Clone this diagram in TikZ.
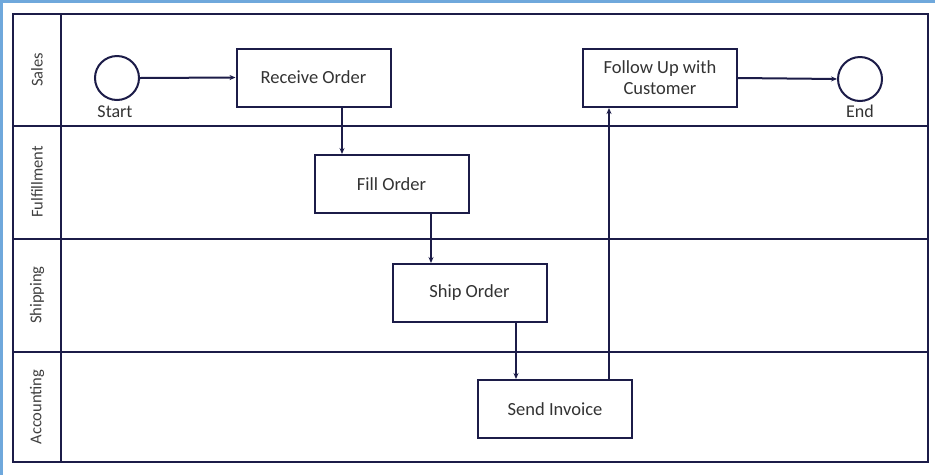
\documentclass[tikz,border=0pt]{standalone}
\usepackage{fontspec}
\setmainfont{Carlito}
\usetikzlibrary{arrows.meta}
\definecolor{ink}{HTML}{1C1C48}
\definecolor{edge}{HTML}{6FA8DC}
\begin{document}
\begin{tikzpicture}[x=1pt,y=-1pt,
  lane/.style={draw=ink,line width=2.6pt},
  task/.style={draw=ink,line width=2pt,fill=white,minimum width=154pt,minimum height=58pt,
               align=center,font=\fontsize{18.5}{21}\selectfont,text=black!80},
  event/.style={draw=ink,line width=2pt,fill=white,circle,minimum size=44pt,inner sep=0pt},
  lanelabel/.style={rotate=90,font=\fontsize{16.5}{18}\selectfont,text=black!75},
  evlabel/.style={font=\fontsize{18}{20}\selectfont,text=black!80},
  flow/.style={draw=ink,line width=2pt,-{Stealth[length=6pt,width=5pt]}}]
\useasboundingbox (0,0) rectangle (935,475);
\fill[white] (0,0) rectangle (935,475);
% frame edge stripes
\fill[edge] (0,0) rectangle (3,475);
\fill[edge] (0,0) rectangle (935,3);
% pool and lanes
\draw[lane] (13,14) rectangle (928,462);
\draw[lane] (61,14) -- (61,462);
\draw[lane] (13,126) -- (928,126);
\draw[lane] (13,239) -- (928,239);
\draw[lane] (13,352) -- (928,352);
\node[lanelabel] (lsales) at (37,70) {Sales};
\node[lanelabel] (lfulfil) at (37,182) {Fulfillment};
\node[lanelabel] (lship) at (37,295) {Shipping};
\node[lanelabel] (lacct) at (37,407) {Accounting};
% events
\node[event] (start) at (117,78) {};
\node[evlabel] (startlbl) at (115,112) {Start};
\node[event] (end) at (860,79) {};
\node[evlabel] (endlbl) at (860,111) {End};
% tasks
\node[task] (receive) at (313.5,77.5) {Receive Order};
\node[task] (follow) at (660,78) {Follow Up with\\Customer};
\node[task] (fill) at (391.5,184) {Fill Order};
\node[task] (shipo) at (469.5,293) {Ship Order};
\node[task] (invoice) at (555,409) {Send Invoice};
% sequence flows
\draw[flow] (start.east) -- (receive.west);
\draw[flow] (receive.south -| 342,0) -- (fill.north -| 342,0);
\draw[flow] (fill.south -| 431,0) -- (shipo.north -| 431,0);
\draw[flow] (shipo.south -| 516,0) -- (invoice.north -| 516,0);
\draw[flow] (invoice.north -| 609,0) -- (follow.south -| 609,0);
\draw[flow] (follow.east) -- (end.west);
\end{tikzpicture}
\end{document}
